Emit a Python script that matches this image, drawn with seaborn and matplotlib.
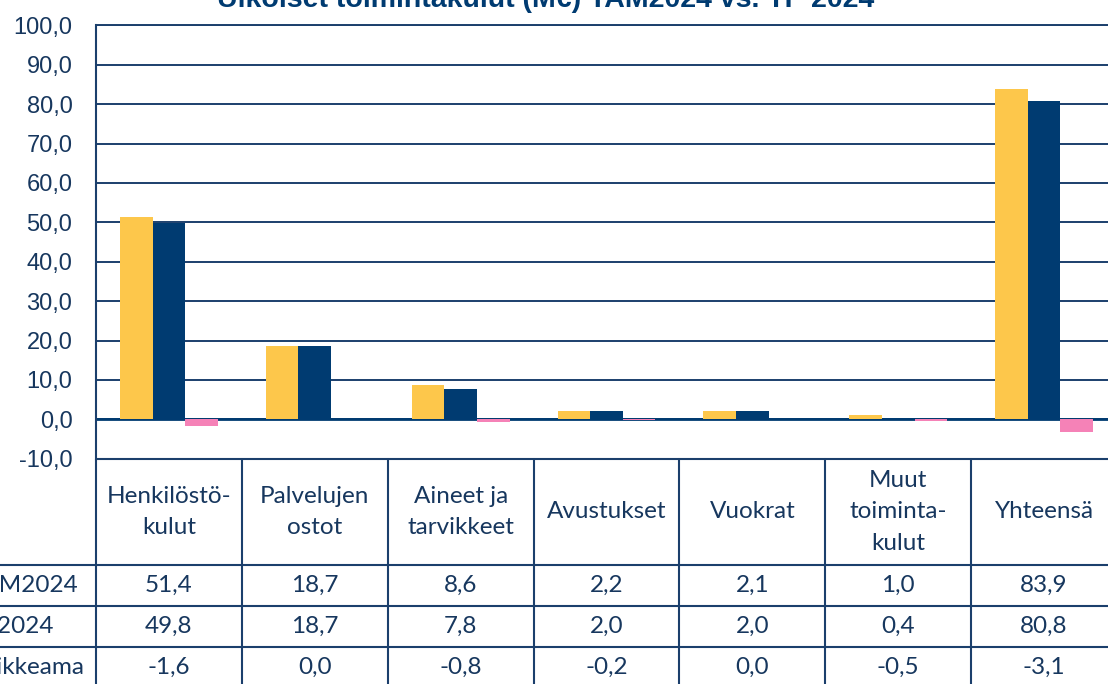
import numpy as np
import pandas as pd
import matplotlib
matplotlib.use('Agg')
import matplotlib.pyplot as plt
import matplotlib.transforms as mtransforms
from matplotlib.lines import Line2D
import seaborn as sns

# --- data ---
categories = ['Henkilöstö-\nkulut', 'Palvelujen\nostot', 'Aineet ja\ntarvikkeet', 'Avustukset',
              'Vuokrat', 'Muut\ntoiminta-\nkulut', 'Yhteensä']
series = ['TAM2024', 'TP2024', 'Poikkeama']
tam2024 = [51.4, 18.7, 8.6, 2.2, 2.1, 1.0, 83.9]
tp2024 = [49.8, 18.7, 7.8, 2.0, 2.0, 0.4, 80.8]
poikkeama = [-1.6, 0.0, -0.8, -0.2, 0.0, -0.5, -3.1]
yticks = [-10, 0, 10, 20, 30, 40, 50, 60, 70, 80, 90, 100]
title = 'Ulkoiset toimintakulut (M€) TAM2024 vs. TP 2024'

YELLOW = '#FDC74B'
NAVY = '#003B71'
PINK = '#F582B7'
TEXT = '#17375E'
LINE = '#1B3F6C'

df = pd.DataFrame({
    'kategoria': categories * 3,
    'sarja': [s for s in series for _ in categories],
    'arvo': tam2024 + tp2024 + poikkeama,
})

W, H = 1108, 684
def fx(px):
    return px / W
def fy(py):
    return 1 - py / H

sns.set_style('white')
plt.rcParams['font.family'] = ['Lato', 'DejaVu Sans']

fig = plt.figure(figsize=(W / 100, H / 100), dpi=100)
top_px, bot_px = 25.3, 458.7
ax = fig.add_axes([fx(96), fy(bot_px), fx(1117) - fx(96), (bot_px - top_px) / H])

sns.barplot(data=df, x='kategoria', y='arvo', hue='sarja', palette=[YELLOW, NAVY, PINK],
            width=0.67, saturation=1, legend=False, ax=ax, zorder=2, linewidth=0)

ax.set_xlim(-0.5, len(categories) - 0.5)
ax.set_ylim(-10, 100)
ax.set_yticks(yticks)
ax.set_yticklabels([f'{v:.1f}'.replace('.', ',') for v in yticks],
                   fontsize=17, color=TEXT, family='Liberation Sans')
ax.tick_params(axis='y', length=0, pad=17)
ax.set_xticks([])
ax.set_xlabel('')
ax.set_ylabel('')
ax.yaxis.grid(True, color=LINE, lw=1.4)
ax.set_axisbelow(True)
for s in ['top', 'right', 'bottom']:
    ax.spines[s].set_visible(False)
ax.spines['left'].set_color(LINE)
ax.spines['left'].set_linewidth(1.5)
ax.axhline(0, color=NAVY, lw=2.0, zorder=1.5)
ax.axhline(-10, color=LINE, lw=1.5, clip_on=False)
ax.axhline(100, color=LINE, lw=1.4, clip_on=False)

# title (top part falls outside the image, as in the reference)
fig.text(fx(546), fy(7), title, ha='center', va='baseline', fontsize=20.5,
         fontweight='bold', color=NAVY, family='Liberation Sans')

# --- data table under the chart ---
trans = mtransforms.blended_transform_factory(ax.transData, fig.transFigure)
row_lines = [565, 606, 647]
row_centers = [585.5, 626.5, 667.5]

for k in range(len(categories) + 1):
    fig.add_artist(Line2D([k - 0.5, k - 0.5], [fy(bot_px), fy(H + 5)], transform=trans,
                          color=LINE, lw=1.5))
for py in row_lines:
    fig.add_artist(Line2D([0, 1], [fy(py), fy(py)], transform=fig.transFigure,
                          color=LINE, lw=1.5))

for k, cat in enumerate(categories):
    fig.text(k, fy(512), cat, transform=trans, ha='center', va='center',
             fontsize=17.5, color=TEXT, linespacing=1.6)

for vals, py in zip([tam2024, tp2024, poikkeama], row_centers):
    for k, v in enumerate(vals):
        fig.text(k, fy(py), f'{v:.1f}'.replace('.', ','), transform=trans,
                 ha='center', va='center', fontsize=17.5, color=TEXT)

for name, py in zip(series, row_centers):
    fig.text(fx(-31), fy(py), name, ha='left', va='center', fontsize=17.5, color=TEXT)

fig.savefig('out.png', dpi=100)
